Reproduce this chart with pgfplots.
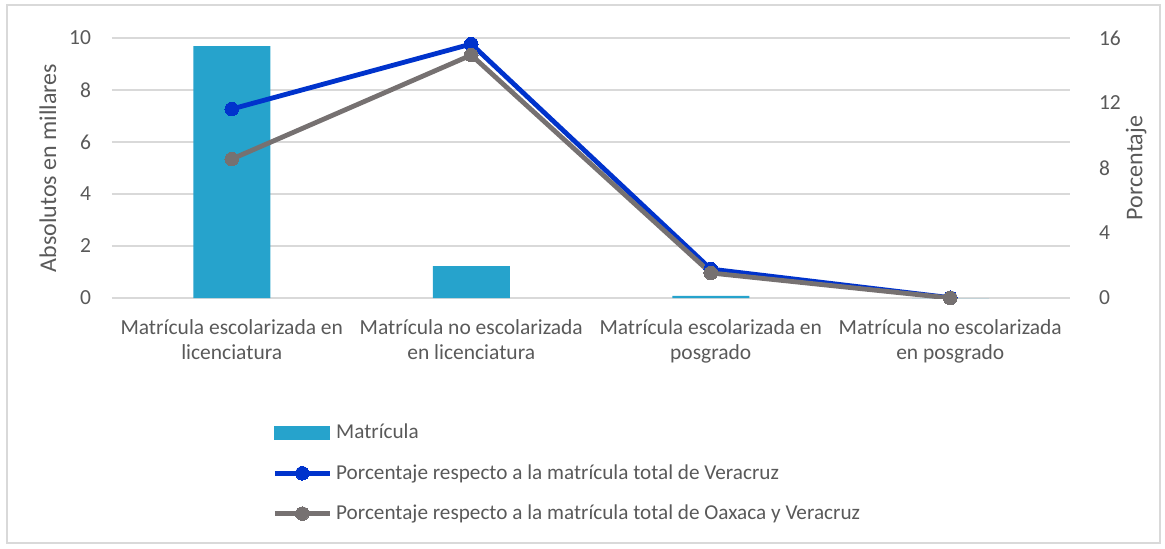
\documentclass[border=0pt]{standalone}
\usepackage{pgfplots}
\pgfplotsset{compat=1.18}
\usepackage{fontspec}
\setmainfont{Carlito}
\definecolor{barcol}{RGB}{38,163,204}
\definecolor{vercol}{RGB}{0,51,204}
\definecolor{oaxcol}{RGB}{118,113,113}
\definecolor{txt}{RGB}{89,89,89}
\definecolor{gridc}{RGB}{217,217,217}
\begin{document}
\begin{tikzpicture}
\useasboundingbox (-56pt,-125pt) rectangle (526.5pt,149pt);
\draw[gridc, line width=0.7pt] (-52.5pt,-122.5pt) rectangle (524pt,146.5pt);
\begin{axis}[
  at={(0pt,0pt)}, anchor=south west,
  scale only axis, width=479pt, height=130pt,
  /pgf/number format/assume math mode=true,
  xmin=-0.5, xmax=3.5, ymin=0, ymax=10,
  ytick={0,2,...,10},
  xtick={0,1,2,3},
  xticklabels={{Matrícula escolarizada en\\licenciatura},{Matrícula no escolarizada\\en licenciatura},{Matrícula escolarizada en\\posgrado},{Matrícula no escolarizada\\en posgrado}},
  xticklabel style={align=center, font=\fontsize{10.75}{12.5}\selectfont, text=txt, yshift=-7pt},
  yticklabel style={font=\fontsize{10.75}{12}\selectfont, text=txt, xshift=-7pt},
  major tick length=0pt,
  axis line style={draw=none},
  ymajorgrids, grid style={gridc, line width=0.8pt},
  axis y line*=left,
  every axis y label/.style={at={(axis description cs:-0.0668,0.5)}, rotate=90, anchor=center, font=\fontsize{12}{14}\selectfont, text=txt},
  ylabel={Absolutos en millares},
  ybar, bar width=38.5pt,
]
\addplot[fill=barcol, draw=none] coordinates {(0,9.69) (1,1.23) (2,0.08) (3,0)};
\end{axis}
\begin{axis}[
  at={(0pt,0pt)}, anchor=south west,
  scale only axis, width=479pt, height=130pt,
  /pgf/number format/assume math mode=true,
  xmin=-0.5, xmax=3.5, ymin=0, ymax=16,
  ytick={0,4,...,16},
  xtick=\empty,
  axis x line=none,
  axis y line*=right,
  axis line style={draw=none},
  major tick length=0pt,
  yticklabel style={font=\fontsize{10.75}{12}\selectfont, text=txt, xshift=11pt},
  every axis y label/.style={at={(axis description cs:1.069,0.5)}, rotate=90, anchor=center, font=\fontsize{12}{14}\selectfont, text=txt},
  ylabel={Porcentaje},
  legend style={at={(0.167,-0.468)}, anchor=north west, draw=none, fill=none, inner sep=0pt, row sep=7.3pt,
    font=\fontsize{10.6}{12}\selectfont, text=txt},
  legend cell align=left,
  legend image code/.code={\draw[mark repeat=2,mark phase=2,#1] plot coordinates {(0pt,0pt) (13.75pt,0pt) (27.5pt,0pt)};},
]
\addlegendimage{legend image code/.code={\fill[barcol] (0pt,-3.2pt) rectangle (27.5pt,3.2pt);}}
\addlegendentry{Matrícula}
\addplot[vercol, line width=2.4pt, mark=*, mark size=3.4pt, mark options={fill=vercol, draw=vercol, line width=0pt}] coordinates {(0,11.63) (1,15.63) (2,1.78) (3,0.02)};
\addlegendentry{Porcentaje respecto a la matrícula total de Veracruz}
\addplot[oaxcol, line width=2.4pt, mark=*, mark size=3.4pt, mark options={fill=oaxcol, draw=oaxcol, line width=0pt}] coordinates {(0,8.55) (1,14.95) (2,1.54) (3,0)};
\addlegendentry{Porcentaje respecto a la matrícula total de Oaxaca y Veracruz}
\end{axis}
\end{tikzpicture}
\end{document}
